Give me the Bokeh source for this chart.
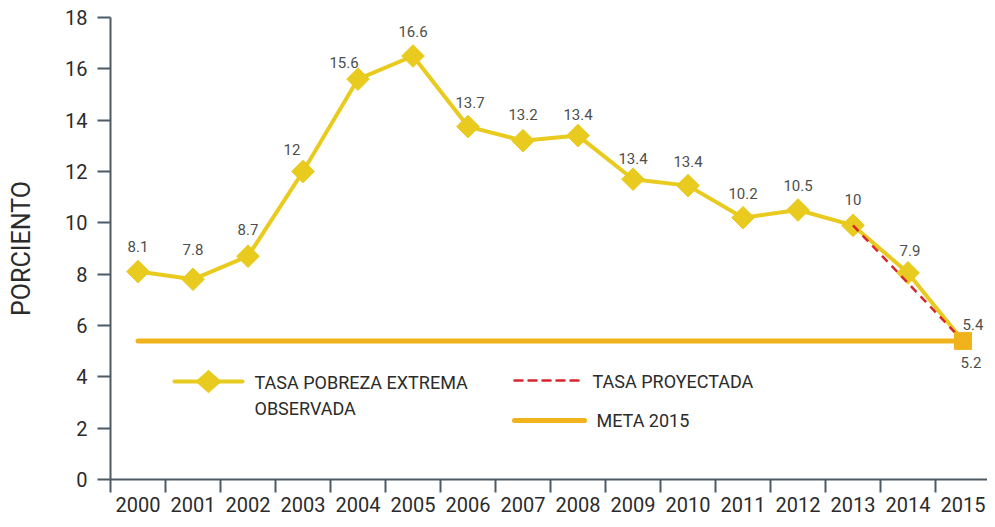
import math
from bokeh.plotting import figure
from bokeh.models import (Range1d, FixedTicker, Label, Arrow, PolyAnnotation,
                          ColumnDataSource)
from bokeh.core.properties import value
from bokeh.embed import file_html
from bokeh.resources import INLINE

# ---------------- data ----------------
years = [2000, 2001, 2002, 2003, 2004, 2005, 2006, 2007,
         2008, 2009, 2010, 2011, 2012, 2013, 2014, 2015]
observed = [8.1, 7.8, 8.7, 12.0, 15.6, 16.5, 13.75, 13.2,
            13.4, 11.7, 11.45, 10.2, 10.5, 9.9, 8.05, 5.4]
point_labels = ["8.1", "7.8", "8.7", "12", "15.6", "16.6", "13.7", "13.2",
                "13.4", "13.4", "13.4", "10.2", "10.5", "10", "7.9", "5.4"]
projected_years = [2013, 2015]
projected = [9.9, 5.4]
meta_years = [2000, 2015]
meta = [5.4, 5.4]
extra_label_year = 2015
extra_label_value = 5.4
extra_label_text = "5.2"
y_ticks = [0, 2, 4, 6, 8, 10, 12, 14, 16, 18]
y_title = "PORCIENTO"
legend_texts = ["TASA POBREZA EXTREMA", "OBSERVADA", "TASA PROYECTADA", "META 2015"]

# label pixel nudges (style only)
label_dx = [0, 0, 0, -11, -14, 0, 2, 0, 0, 0, 0, 0, 0, 0, 2, 10]
label_dy = [-25, -30, -27, -22, -17, -25, -24, -26, -21, -21, -24, -24, -25, -26, -22, -16]

FONT = "Roboto"
YELLOW = "#E8CB1E"
GOLD = "#F0B31B"
RED = "#D7262B"
AXIS = "#4C5A66"
TXT = "#2B2B2B"
LBL = "#4D4F4C"

def pos(year):
    return years.index(year) + 0.5

xs = [pos(y) for y in years]

p = figure(width=987, height=519, output_backend="svg", toolbar_location=None,
           x_range=Range1d(0, 15.945), y_range=Range1d(0, 18),
           min_border_left=110, min_border_right=0, min_border_top=17,
           min_border_bottom=40)
p.outline_line_color = None
p.grid.visible = False
p.background_fill_color = "white"
p.border_fill_color = "white"

# x axis: labels at centres, ticks at boundaries
xa = p.xaxis[0]
xa.ticker = FixedTicker(ticks=xs, minor_ticks=[float(i) for i in range(len(years) + 1)])
xa.major_label_overrides = {x: str(y) for x, y in zip(xs, years)}
xa.major_tick_out = 0
xa.major_tick_in = 0
xa.minor_tick_out = 13
xa.minor_tick_in = 0
xa.minor_tick_line_color = AXIS
xa.minor_tick_line_width = 2
xa.axis_line_color = AXIS
xa.axis_line_width = 2
xa.major_label_text_font = FONT
xa.major_label_text_font_size = "20px"
xa.major_label_text_color = TXT
xa.major_label_standoff = 4

ya = p.yaxis[0]
ya.ticker = FixedTicker(ticks=y_ticks, minor_ticks=[])
ya.major_tick_out = 13
ya.major_tick_in = 0
ya.major_tick_line_color = AXIS
ya.major_tick_line_width = 2
ya.axis_line_color = AXIS
ya.axis_line_width = 2
ya.major_label_text_font = FONT
ya.major_label_text_font_size = "20px"
ya.major_label_text_color = TXT
ya.major_label_standoff = 10
ya.axis_label = y_title
ya.axis_label_text_font = FONT
ya.axis_label_text_font_size = "25px"
ya.axis_label_text_font_style = "normal"
ya.axis_label_text_color = TXT
ya.axis_label_standoff = 26

# meta line
p.line([pos(y) for y in meta_years], meta, line_color=GOLD,
       line_width=5, line_cap="round")

# observed line + diamonds
p.line(xs, observed, line_color=YELLOW, line_width=4,
       line_join="round", line_cap="round")
p.scatter(xs[:-1], observed[:-1], marker="square", size=16,
          angle=math.pi / 4, fill_color=YELLOW, line_color=YELLOW)

# projected dashed
p.line([pos(y) for y in projected_years], projected, line_color=RED,
       line_width=2.5, line_dash="8 6")

# 2015 square
p.scatter([xs[-1]], [observed[-1]], marker="square", size=17,
          fill_color=GOLD, line_color=GOLD)

# point labels
src = ColumnDataSource(dict(x=xs, y=observed, t=point_labels,
                            dx=label_dx, dy=label_dy))
p.text(x="x", y="y", text="t", x_offset="dx", y_offset="dy", source=src,
       text_font=value(FONT), text_font_size="15px", text_color=LBL,
       text_align="center", text_baseline="middle")
p.text(x=[pos(extra_label_year)], y=[extra_label_value], text=[extra_label_text],
       x_offset=8, y_offset=22, text_font=value(FONT), text_font_size="15px",
       text_color=LBL, text_align="center", text_baseline="middle")

# ---------------- legend (screen units, relative to the frame) ----------------
def seg(x0, x1, y, color, width, dash="solid"):
    p.add_layout(Arrow(x_start=x0, y_start=y, x_end=x1, y_end=y,
                       start_units="screen", end_units="screen", end=None,
                       line_color=color, line_width=width, line_dash=dash,
                       line_cap="round"))

def txt(x, y, t):
    p.add_layout(Label(x=x, y=y, x_units="screen", y_units="screen", text=t,
                       text_font=FONT, text_font_size="18px", text_color=TXT,
                       text_baseline="middle", text_align="left"))

seg(64, 132, 98, YELLOW, 4)
cx, cy, hw, hh = 98, 98, 13, 11.5
p.add_layout(PolyAnnotation(xs=[cx - hw, cx, cx + hw, cx], ys=[cy, cy + hh, cy, cy - hh],
                            xs_units="screen", ys_units="screen",
                            fill_color=YELLOW, fill_alpha=1, line_color=YELLOW))
txt(144, 97, legend_texts[0])
txt(144, 71, legend_texts[1])

seg(404, 469, 99, RED, 2.5, "8 6")
txt(482, 98, legend_texts[2])
seg(404, 474, 59, GOLD, 5)
txt(486, 59, legend_texts[3])

open("out.html", "w").write(file_html(p, INLINE))
